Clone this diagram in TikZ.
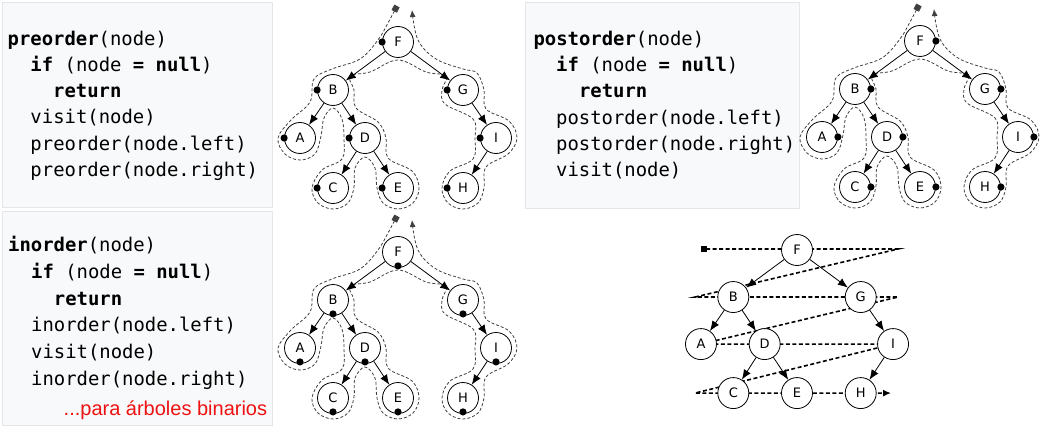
\documentclass[tikz,border=0pt]{standalone}
\usepackage{fontspec}
\setmainfont{Liberation Sans}
\setmonofont{DejaVu Sans Mono}
\newfontfamily\nodefont{DejaVu Sans}
\usetikzlibrary{arrows.meta,backgrounds}

\definecolor{codebg}{HTML}{F8F9FA}
\definecolor{codeframe}{HTML}{E4E6EA}
\definecolor{notered}{HTML}{EE1111}

\tikzset{
  codebox/.style={fill=codebg,draw=codeframe,line width=1pt},
  codeline/.style={anchor=west,inner sep=0pt,font=\ttfamily\fontsize{18.9}{22}\selectfont,
    text height=14pt,text depth=4.5pt},
  vertex/.style={circle,draw,fill=white,minimum size=31pt,inner sep=0pt,line width=0.8pt,
    font=\nodefont\fontsize{13}{15}\selectfont},
  edge/.style={-{Latex[length=10pt,width=8pt]},line width=0.8pt},
  tour/.style={draw=black!75,line width=0.8pt,dash pattern=on 3pt off 2pt,
    {Square[length=6pt,width=6pt]}-{Latex[length=7pt,width=6pt]}},
  sweep/.style={line width=1.6pt,dash pattern=on 4pt off 2.5pt,
    {Square[length=6pt,width=6pt]}-{Latex[length=8pt,width=7pt]}},
  visit/.style={fill=black}
}

% the binary tree, node names get the prefix #1
\newcommand\bintree[1]{%
  \node[vertex] (#1F) at (0,0) {F};
  \node[vertex] (#1B) at (-65,48) {B};
  \node[vertex] (#1G) at (65,48) {G};
  \node[vertex] (#1A) at (-98,96) {A};
  \node[vertex] (#1D) at (-33,96) {D};
  \node[vertex] (#1I) at (98,96) {I};
  \node[vertex] (#1C) at (-65,146) {C};
  \node[vertex] (#1E) at (0,146) {E};
  \node[vertex] (#1H) at (65,146) {H};
  \foreach \u/\v in {F/B,F/G,B/A,B/D,D/C,D/E,G/I,I/H}
    \draw[edge] (#1\u) -- (#1\v);
}

% dashed walk round the tree
\newcommand\eulertour{%
  \draw[tour] plot[smooth,tension=0.6] coordinates {
    (-1,-36) (-10,-19) (-20,-2) (-38,17) (-66,27) (-84,37) (-88,60) (-107,78)
    (-120,96) (-113,112) (-98,118) (-83,112) (-77,94) (-74,76) (-65,66)
    (-56,77) (-54,97) (-56,117) (-76,128) (-86,146) (-80,161) (-65,167)
    (-50,161) (-44,145) (-43,126) (-33,115) (-23,126) (-21,146) (-15,161)
    (0,167) (15,161) (21,146) (14,129) (-10,116) (-12,96) (-20,80) (-42,66)
    (-44,48) (-48,34) (-28,30) (0,18) (28,30) (48,34) (44,48) (47,62)
    (75,77) (77,96) (75,117) (52,129) (44,146) (50,161) (65,167) (80,161)
    (86,146) (88,125) (110,112) (119,96) (111,79) (88,67) (86,48) (79,31)
    (65,27) (38,17) (20,-2) (14,-32)};
}

\begin{document}
\begin{tikzpicture}[x=1pt,y=-1pt]
\useasboundingbox (0,0) rectangle (1045,428);

% code boxes
\draw[codebox] (2,3) rectangle (272,207);
\draw[codebox] (525,3) rectangle (799,208);
\draw[codebox] (2,211) rectangle (272,425);

\node[codeline] (pre1) at (7.5,41) {\textbf{preorder}(node)};
\node[codeline] (pre2) at (30.3,67) {\textbf{if} (node \textbf{=} \textbf{null})};
\node[codeline] (pre3) at (53,93) {\textbf{return}};
\node[codeline] (pre4) at (30.3,119) {visit(node)};
\node[codeline] (pre5) at (30.3,146) {preorder(node.left)};
\node[codeline] (pre6) at (30.3,172) {preorder(node.right)};

\node[codeline] (post1) at (533.3,41) {\textbf{postorder}(node)};
\node[codeline] (post2) at (556,67) {\textbf{if} (node \textbf{=} \textbf{null})};
\node[codeline] (post3) at (578.8,93) {\textbf{return}};
\node[codeline] (post4) at (556,120) {postorder(node.left)};
\node[codeline] (post5) at (556,146) {postorder(node.right)};
\node[codeline] (post6) at (556,172) {visit(node)};

\node[codeline] (in1) at (8,247) {\textbf{inorder}(node)};
\node[codeline] (in2) at (31,274) {\textbf{if} (node \textbf{=} \textbf{null})};
\node[codeline] (in3) at (53.7,301) {\textbf{return}};
\node[codeline] (in4) at (31,327) {inorder(node.left)};
\node[codeline] (in5) at (31,354) {visit(node)};
\node[codeline] (in6) at (31,381) {inorder(node.right)};
\node[anchor=west,inner sep=0pt,text=notered,font=\fontsize{20}{24}\selectfont] (note) at (63.5,410) {...para árboles binarios};

% preorder
\begin{scope}[shift={(398,42)}]
\eulertour
\bintree{pre}
\foreach \n in {F,B,G,A,D,I,C,E,H}
  \fill[visit] (pre\n.west) circle (3.6pt);
\end{scope}

% postorder
\begin{scope}[shift={(920,41)}]
\eulertour
\bintree{post}
\foreach \n in {F,B,G,A,D,I,C,E,H}
  \fill[visit] (post\n.east) circle (3.6pt);
\end{scope}

% inorder
\begin{scope}[shift={(398,252)}]
\eulertour
\bintree{in}
\foreach \n in {F,B,G,A,D,I,C,E,H}
  \fill[visit] ([yshift=2pt]in\n.south) circle (3.6pt);
\end{scope}

% level order
\begin{scope}[shift={(797,250)},scale=0.98]
\bintree{lvl}
\coordinate (q0) at (-98,-1);
\coordinate (q1) at (103,-1);
\coordinate (q2) at (-104,48);
\coordinate (q3) at (103,48);
\coordinate (q4) at (-104,146);
\coordinate (q5) at (96,146);
\begin{pgfonlayer}{background}
\draw[sweep] (q0) -- (q1) -- (q2) -- (q3) -- (lvlA.center) -- (lvlI.center) -- (q4) -- (q5);
\end{pgfonlayer}
\end{scope}
\end{tikzpicture}
\end{document}
